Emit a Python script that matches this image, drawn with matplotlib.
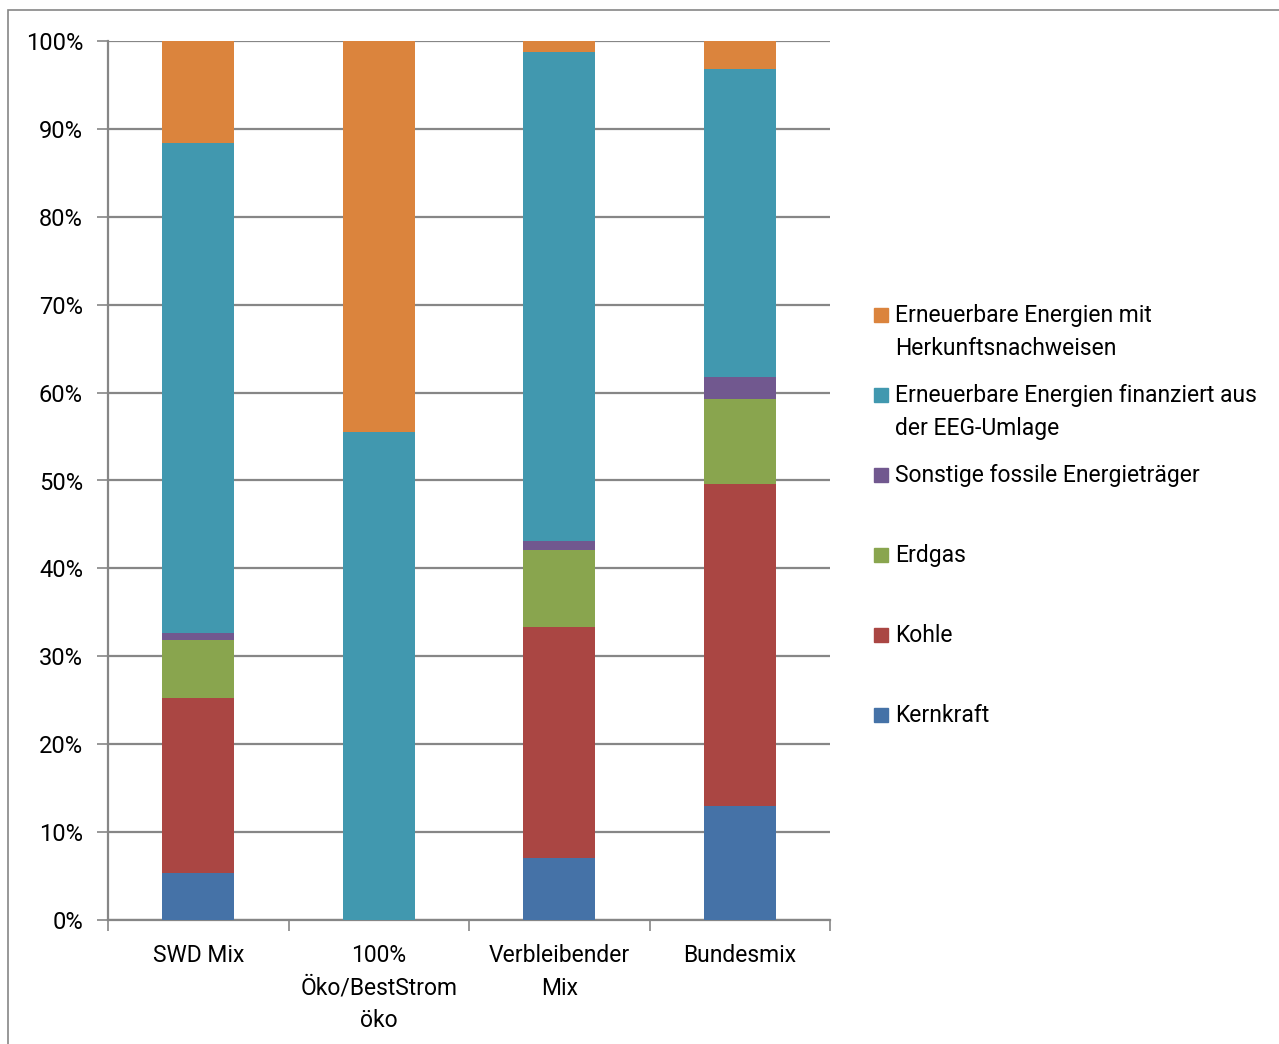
import matplotlib
matplotlib.use("Agg")
import matplotlib.pyplot as plt
from matplotlib.patches import Rectangle
import numpy as np

plt.rcParams['font.family'] = ['Roboto', 'DejaVu Sans']

categories = ["SWD Mix", "100%\nÖko/BestStrom\nöko", "Verbleibender\nMix", "Bundesmix"]

# Anteile in Prozent, von unten nach oben gestapelt
kernkraft = [5.3, 0.0, 7.1, 13.0]
kohle = [20.0, 0.0, 26.2, 36.6]
erdgas = [6.6, 0.0, 8.8, 9.7]
sonstige = [0.8, 0.0, 1.0, 2.5]
eeg = [55.7, 55.5, 55.7, 35.0]
herkunft = [11.6, 44.5, 1.2, 3.2]

series = [kernkraft, kohle, erdgas, sonstige, eeg, herkunft]
labels = ["Kernkraft", "Kohle", "Erdgas", "Sonstige fossile Energieträger",
          "Erneuerbare Energien finanziert aus\nder EEG-Umlage",
          "Erneuerbare Energien mit\nHerkunftsnachweisen"]
colors = ["#4572A7", "#AA4643", "#89A54E", "#71588F", "#4198AF", "#DB843D"]

W, H = 1279, 1044
fig = plt.figure(figsize=(W / 100, H / 100), dpi=100)
ax = fig.add_axes([108 / W, 1 - 920 / H, (830 - 108) / W, (920 - 41) / H])

x = np.arange(len(categories))
bottom = np.zeros(len(categories))
for vals, col in zip(series, colors):
    ax.bar(x, vals, bottom=bottom, width=0.4, color=col, zorder=3)
    bottom += np.array(vals)

ax.set_xlim(-0.5, len(categories) - 0.5)
ax.set_ylim(0, 100)
ax.set_yticks(np.arange(0, 101, 10))
ax.set_yticklabels([f"{v}%" for v in range(0, 101, 10)], fontsize=17)
ax.yaxis.grid(True, color="#868686", linewidth=1.6, zorder=0)
ax.tick_params(axis='y', length=8, width=1.2, color="#868686", pad=10)

ax.set_xticks(np.arange(-0.5, len(categories), 1.0))
ax.set_xticklabels([])
ax.set_xticks(x, minor=True)
ax.set_xticklabels(categories, minor=True, fontsize=16.5, linespacing=1.55)
ax.tick_params(axis='x', which='major', length=8, width=1.2, color="#868686")
ax.tick_params(axis='x', which='minor', length=0, pad=17)

for s in ["top", "right"]:
    ax.spines[s].set_visible(False)
for s in ["left", "bottom"]:
    ax.spines[s].set_color("#868686")
    ax.spines[s].set_linewidth(1.6)

# Legende (oberster Stapel zuerst)
ly = 315
for lab, col in zip(labels[::-1], colors[::-1]):
    fig.patches.append(Rectangle((874 / W, 1 - (ly + 7) / H), 14 / W, 14 / H,
                                 transform=fig.transFigure, color=col))
    fig.text(895 / W, 1 - (ly - 11) / H, lab, fontsize=16.5, va="top", ha="left",
             linespacing=1.55)
    ly += 80

# Rahmen des Diagrammbereichs
fig.patches.append(Rectangle((8 / W, -0.01), 1.1, 1 - 10 / H + 0.01, transform=fig.transFigure,
                             fill=False, edgecolor="#868686", linewidth=1.2))

fig.savefig("out.png", dpi=100)
